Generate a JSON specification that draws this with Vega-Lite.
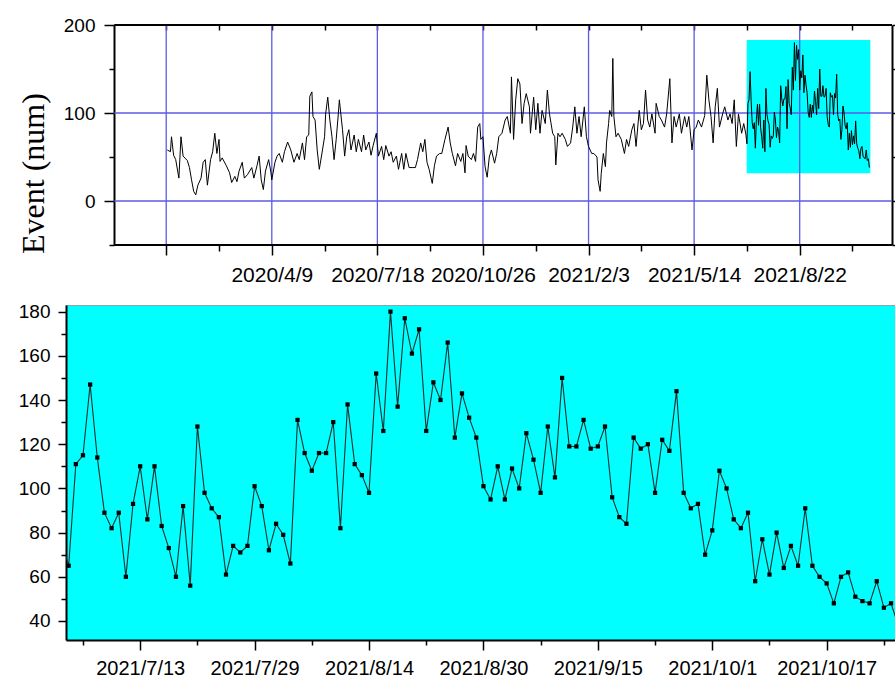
{
  "$schema": "https://vega.github.io/schema/vega-lite/v6.json",
  "padding": {"left": 16, "top": 16, "right": 0, "bottom": 0},
  "background": "white",
  "spacing": 17,
  "config": {
    "font": "Liberation Sans",
    "view": {"stroke": null},
    "axis": {"domainColor": "black", "tickColor": "black", "labelColor": "black", "labelFont": "Liberation Sans", "labelFlush": false, "labelOverlap": false, "grid": false, "domainWidth": 2, "tickWidth": 1.5}
  },
  "datasets": {
    "window": [{"start": "2021-07-02T19:00:00Z", "end": "2021-10-27T22:00:00Z", "low": 31.4, "high": 183}],
    "vgrid": [{"d": "2019-12-31"}, {"d": "2020-04-09"}, {"d": "2020-07-18"}, {"d": "2020-10-26"}, {"d": "2021-02-03"}, {"d": "2021-05-14"}, {"d": "2021-08-22"}],
    "hgrid": [{"v": 0, "a": "2019-11-11T19:00:00Z", "b": "2021-11-17T10:00:00Z"}, {"v": 100, "a": "2019-11-11T19:00:00Z", "b": "2021-11-17T10:00:00Z"}],
    "frame": [{"v": -50, "a": "2019-11-11T19:00:00Z", "b": "2021-11-17T10:00:00Z"}, {"v": 200, "a": "2019-11-11T19:00:00Z", "b": "2021-11-17T10:00:00Z"}],
    "series": [
      {"date":"2020-01-01","value":58},{"date":"2020-01-04","value":56},{"date":"2020-01-05","value":73},{"date":"2020-01-07","value":52},{"date":"2020-01-09","value":47},{"date":"2020-01-12","value":26},{"date":"2020-01-14","value":73},{"date":"2020-01-16","value":51},{"date":"2020-01-20","value":46},{"date":"2020-01-22","value":38},{"date":"2020-01-24","value":24},{"date":"2020-01-26","value":11},{"date":"2020-01-28","value":7},{"date":"2020-01-30","value":18},{"date":"2020-02-02","value":26},{"date":"2020-02-04","value":44},{"date":"2020-02-06","value":47},{"date":"2020-02-08","value":18},{"date":"2020-02-11","value":47},{"date":"2020-02-13","value":56},{"date":"2020-02-15","value":77},{"date":"2020-02-17","value":54},{"date":"2020-02-19","value":70},{"date":"2020-02-20","value":45},{"date":"2020-02-22","value":49},{"date":"2020-02-26","value":40},{"date":"2020-02-29","value":32},{"date":"2020-03-02","value":21},{"date":"2020-03-05","value":28},{"date":"2020-03-07","value":22},{"date":"2020-03-09","value":34},{"date":"2020-03-12","value":44},{"date":"2020-03-14","value":26},{"date":"2020-03-17","value":30},{"date":"2020-03-21","value":38},{"date":"2020-03-23","value":26},{"date":"2020-03-26","value":40},{"date":"2020-03-28","value":51},{"date":"2020-03-30","value":24},{"date":"2020-04-01","value":13},{"date":"2020-04-03","value":34},{"date":"2020-04-06","value":47},{"date":"2020-04-08","value":34},{"date":"2020-04-09","value":24},{"date":"2020-04-12","value":44},{"date":"2020-04-14","value":51},{"date":"2020-04-16","value":54},{"date":"2020-04-19","value":44},{"date":"2020-04-21","value":56},{"date":"2020-04-24","value":67},{"date":"2020-04-27","value":58},{"date":"2020-04-30","value":44},{"date":"2020-05-03","value":54},{"date":"2020-05-05","value":47},{"date":"2020-05-08","value":66},{"date":"2020-05-10","value":47},{"date":"2020-05-12","value":73},{"date":"2020-05-14","value":75},{"date":"2020-05-15","value":119},{"date":"2020-05-17","value":124},{"date":"2020-05-18","value":96},{"date":"2020-05-20","value":92},{"date":"2020-05-22","value":58},{"date":"2020-05-24","value":36},{"date":"2020-05-27","value":58},{"date":"2020-05-29","value":73},{"date":"2020-05-30","value":99},{"date":"2020-06-01","value":118},{"date":"2020-06-03","value":92},{"date":"2020-06-05","value":73},{"date":"2020-06-07","value":47},{"date":"2020-06-09","value":70},{"date":"2020-06-11","value":99},{"date":"2020-06-12","value":115},{"date":"2020-06-14","value":92},{"date":"2020-06-15","value":81},{"date":"2020-06-17","value":51},{"date":"2020-06-19","value":73},{"date":"2020-06-21","value":81},{"date":"2020-06-23","value":58},{"date":"2020-06-26","value":75},{"date":"2020-06-28","value":56},{"date":"2020-06-30","value":70},{"date":"2020-07-03","value":56},{"date":"2020-07-05","value":75},{"date":"2020-07-07","value":58},{"date":"2020-07-10","value":67},{"date":"2020-07-12","value":52},{"date":"2020-07-14","value":63},{"date":"2020-07-17","value":77},{"date":"2020-07-19","value":51},{"date":"2020-07-22","value":62},{"date":"2020-07-24","value":47},{"date":"2020-07-26","value":63},{"date":"2020-07-29","value":51},{"date":"2020-07-31","value":56},{"date":"2020-08-02","value":44},{"date":"2020-08-05","value":51},{"date":"2020-08-07","value":36},{"date":"2020-08-10","value":54},{"date":"2020-08-12","value":36},{"date":"2020-08-14","value":54},{"date":"2020-08-17","value":38},{"date":"2020-08-20","value":38},{"date":"2020-08-23","value":38},{"date":"2020-08-25","value":47},{"date":"2020-08-28","value":66},{"date":"2020-08-30","value":56},{"date":"2020-09-01","value":70},{"date":"2020-09-03","value":44},{"date":"2020-09-05","value":36},{"date":"2020-09-08","value":20},{"date":"2020-09-10","value":40},{"date":"2020-09-12","value":51},{"date":"2020-09-15","value":54},{"date":"2020-09-17","value":54},{"date":"2020-09-20","value":70},{"date":"2020-09-23","value":84},{"date":"2020-09-25","value":66},{"date":"2020-09-27","value":54},{"date":"2020-09-30","value":40},{"date":"2020-10-02","value":54},{"date":"2020-10-05","value":45},{"date":"2020-10-07","value":54},{"date":"2020-10-09","value":32},{"date":"2020-10-10","value":63},{"date":"2020-10-12","value":51},{"date":"2020-10-15","value":47},{"date":"2020-10-17","value":54},{"date":"2020-10-19","value":45},{"date":"2020-10-21","value":84},{"date":"2020-10-23","value":88},{"date":"2020-10-24","value":70},{"date":"2020-10-26","value":73},{"date":"2020-10-28","value":39},{"date":"2020-10-30","value":27},{"date":"2020-11-01","value":50},{"date":"2020-11-03","value":58},{"date":"2020-11-06","value":43},{"date":"2020-11-08","value":54},{"date":"2020-11-10","value":73},{"date":"2020-11-13","value":77},{"date":"2020-11-16","value":92},{"date":"2020-11-18","value":96},{"date":"2020-11-21","value":77},{"date":"2020-11-22","value":141},{"date":"2020-11-24","value":70},{"date":"2020-11-26","value":115},{"date":"2020-11-28","value":139},{"date":"2020-11-30","value":133},{"date":"2020-12-02","value":88},{"date":"2020-12-04","value":111},{"date":"2020-12-06","value":122},{"date":"2020-12-09","value":107},{"date":"2020-12-10","value":77},{"date":"2020-12-13","value":118},{"date":"2020-12-15","value":81},{"date":"2020-12-17","value":111},{"date":"2020-12-19","value":77},{"date":"2020-12-21","value":103},{"date":"2020-12-24","value":88},{"date":"2020-12-26","value":126},{"date":"2020-12-28","value":99},{"date":"2020-12-31","value":77},{"date":"2021-01-02","value":73},{"date":"2021-01-03","value":41},{"date":"2021-01-05","value":77},{"date":"2021-01-07","value":73},{"date":"2021-01-09","value":77},{"date":"2021-01-12","value":70},{"date":"2021-01-14","value":62},{"date":"2021-01-17","value":66},{"date":"2021-01-19","value":84},{"date":"2021-01-21","value":107},{"date":"2021-01-23","value":77},{"date":"2021-01-25","value":96},{"date":"2021-01-27","value":73},{"date":"2021-01-30","value":107},{"date":"2021-02-01","value":73},{"date":"2021-02-03","value":62},{"date":"2021-02-06","value":54},{"date":"2021-02-08","value":54},{"date":"2021-02-11","value":50},{"date":"2021-02-12","value":24},{"date":"2021-02-14","value":11},{"date":"2021-02-15","value":31},{"date":"2021-02-17","value":54},{"date":"2021-02-19","value":39},{"date":"2021-02-20","value":66},{"date":"2021-02-22","value":88},{"date":"2021-02-23","value":103},{"date":"2021-02-25","value":96},{"date":"2021-02-26","value":162},{"date":"2021-02-27","value":96},{"date":"2021-03-01","value":73},{"date":"2021-03-03","value":77},{"date":"2021-03-06","value":70},{"date":"2021-03-09","value":54},{"date":"2021-03-11","value":70},{"date":"2021-03-13","value":62},{"date":"2021-03-16","value":81},{"date":"2021-03-18","value":88},{"date":"2021-03-20","value":62},{"date":"2021-03-23","value":103},{"date":"2021-03-25","value":81},{"date":"2021-03-27","value":88},{"date":"2021-03-29","value":126},{"date":"2021-03-31","value":92},{"date":"2021-04-02","value":84},{"date":"2021-04-04","value":99},{"date":"2021-04-07","value":77},{"date":"2021-04-08","value":111},{"date":"2021-04-11","value":96},{"date":"2021-04-13","value":92},{"date":"2021-04-16","value":84},{"date":"2021-04-18","value":99},{"date":"2021-04-21","value":139},{"date":"2021-04-23","value":66},{"date":"2021-04-25","value":96},{"date":"2021-04-27","value":84},{"date":"2021-04-30","value":99},{"date":"2021-05-02","value":77},{"date":"2021-05-05","value":96},{"date":"2021-05-07","value":84},{"date":"2021-05-09","value":96},{"date":"2021-05-12","value":58},{"date":"2021-05-14","value":81},{"date":"2021-05-16","value":84},{"date":"2021-05-18","value":92},{"date":"2021-05-21","value":84},{"date":"2021-05-24","value":97},{"date":"2021-05-26","value":143},{"date":"2021-05-28","value":115},{"date":"2021-05-30","value":96},{"date":"2021-06-01","value":66},{"date":"2021-06-03","value":107},{"date":"2021-06-05","value":128},{"date":"2021-06-07","value":84},{"date":"2021-06-10","value":99},{"date":"2021-06-12","value":107},{"date":"2021-06-15","value":92},{"date":"2021-06-17","value":99},{"date":"2021-06-19","value":88},{"date":"2021-06-21","value":115},{"date":"2021-06-23","value":62},{"date":"2021-06-25","value":99},{"date":"2021-06-28","value":77},{"date":"2021-06-30","value":88},
      {"date":"2021-07-02","value":76},{"date":"2021-07-03","value":65},{"date":"2021-07-04","value":111},{"date":"2021-07-05","value":115},{"date":"2021-07-06","value":147},{"date":"2021-07-07","value":114},{"date":"2021-07-08","value":89},{"date":"2021-07-09","value":82},{"date":"2021-07-10","value":89},{"date":"2021-07-11","value":60},{"date":"2021-07-12","value":93},{"date":"2021-07-13","value":110},{"date":"2021-07-14","value":86},{"date":"2021-07-15","value":110},{"date":"2021-07-16","value":83},{"date":"2021-07-17","value":73},{"date":"2021-07-18","value":60},{"date":"2021-07-19","value":92},{"date":"2021-07-20","value":56},{"date":"2021-07-21","value":128},{"date":"2021-07-22","value":98},{"date":"2021-07-23","value":91},{"date":"2021-07-24","value":87},{"date":"2021-07-25","value":61},{"date":"2021-07-26","value":74},{"date":"2021-07-27","value":71},{"date":"2021-07-28","value":74},{"date":"2021-07-29","value":101},{"date":"2021-07-30","value":92},{"date":"2021-07-31","value":72},
      {"date":"2021-08-01","value":84},{"date":"2021-08-02","value":79},{"date":"2021-08-03","value":66},{"date":"2021-08-04","value":131},{"date":"2021-08-05","value":116},{"date":"2021-08-06","value":108},{"date":"2021-08-07","value":116},{"date":"2021-08-08","value":116},{"date":"2021-08-09","value":130},{"date":"2021-08-10","value":82},{"date":"2021-08-11","value":138},{"date":"2021-08-12","value":111},{"date":"2021-08-13","value":106},{"date":"2021-08-14","value":98},{"date":"2021-08-15","value":152},{"date":"2021-08-16","value":126},{"date":"2021-08-17","value":180},{"date":"2021-08-18","value":137},{"date":"2021-08-19","value":177},{"date":"2021-08-20","value":161},{"date":"2021-08-21","value":172},{"date":"2021-08-22","value":126},{"date":"2021-08-23","value":148},{"date":"2021-08-24","value":140},{"date":"2021-08-25","value":166},{"date":"2021-08-26","value":123},{"date":"2021-08-27","value":143},{"date":"2021-08-28","value":132},{"date":"2021-08-29","value":123},{"date":"2021-08-30","value":101},{"date":"2021-08-31","value":95},
      {"date":"2021-09-01","value":110},{"date":"2021-09-02","value":95},{"date":"2021-09-03","value":109},{"date":"2021-09-04","value":100},{"date":"2021-09-05","value":125},{"date":"2021-09-06","value":113},{"date":"2021-09-07","value":98},{"date":"2021-09-08","value":128},{"date":"2021-09-09","value":105},{"date":"2021-09-10","value":150},{"date":"2021-09-11","value":119},{"date":"2021-09-12","value":119},{"date":"2021-09-13","value":131},{"date":"2021-09-14","value":118},{"date":"2021-09-15","value":119},{"date":"2021-09-16","value":128},{"date":"2021-09-17","value":96},{"date":"2021-09-18","value":87},{"date":"2021-09-19","value":84},{"date":"2021-09-20","value":123},{"date":"2021-09-21","value":118},{"date":"2021-09-22","value":120},{"date":"2021-09-23","value":98},{"date":"2021-09-24","value":122},{"date":"2021-09-25","value":117},{"date":"2021-09-26","value":144},{"date":"2021-09-27","value":98},{"date":"2021-09-28","value":91},{"date":"2021-09-29","value":93},{"date":"2021-09-30","value":70},
      {"date":"2021-10-01","value":81},{"date":"2021-10-02","value":108},{"date":"2021-10-03","value":100},{"date":"2021-10-04","value":86},{"date":"2021-10-05","value":82},{"date":"2021-10-06","value":89},{"date":"2021-10-07","value":58},{"date":"2021-10-08","value":77},{"date":"2021-10-09","value":61},{"date":"2021-10-10","value":80},{"date":"2021-10-11","value":64},{"date":"2021-10-12","value":74},{"date":"2021-10-13","value":65},{"date":"2021-10-14","value":91},{"date":"2021-10-15","value":65},{"date":"2021-10-16","value":60},{"date":"2021-10-17","value":57},{"date":"2021-10-18","value":48},{"date":"2021-10-19","value":60},{"date":"2021-10-20","value":62},{"date":"2021-10-21","value":51},{"date":"2021-10-22","value":49},{"date":"2021-10-23","value":48},{"date":"2021-10-24","value":58},{"date":"2021-10-25","value":46},{"date":"2021-10-26","value":48},{"date":"2021-10-27","value":38}
    ]
  },
  "vconcat": [
    {
      "width": 826,
      "height": 220,
      "resolve": {"axis": {"x": "independent", "y": "independent"}},
      "layer": [
        {
          "data": {"name": "window"},
          "mark": {"type": "rect", "color": "#00ffff", "opacity": 1},
          "encoding": {
            "x": {"field": "start", "type": "temporal", "scale": {"type": "utc", "domain": [{"year": 2019, "month": 9, "date": 27, "hours": 2, "utc": true}, {"year": 2021, "month": 11, "date": 17, "hours": 10, "utc": true}]}, "axis": null},
            "x2": {"field": "end"},
            "y": {"field": "low", "type": "quantitative", "scale": {"domain": [-50, 200], "nice": false, "zero": false}, "axis": null},
            "y2": {"field": "high"}
          }
        },
        {
          "data": {"name": "vgrid"},
          "mark": {"type": "rule", "color": "#5b5be6", "strokeWidth": 1.3},
          "encoding": {
            "x": {"field": "d", "type": "temporal", "axis": null}
          }
        },
        {
          "data": {"name": "hgrid"},
          "mark": {"type": "rule", "color": "#5b5be6", "strokeWidth": 1.3},
          "encoding": {
            "x": {"field": "a", "type": "temporal", "axis": null},
            "x2": {"field": "b"},
            "y": {"field": "v", "type": "quantitative", "axis": null}
          }
        },
        {
          "data": {"name": "series"},
          "mark": {"type": "line", "color": "black", "strokeWidth": 1, "clip": true},
          "encoding": {
            "x": {
              "field": "date", "type": "temporal",
              "scale": {"type": "utc", "domain": [{"year": 2019, "month": 9, "date": 27, "hours": 2, "utc": true}, {"year": 2021, "month": 11, "date": 17, "hours": 10, "utc": true}]},
              "axis": {
                "orient": "bottom", "title": null, "domain": false,
                "values": [
                  {"year": 2019, "month": 12, "date": 31, "utc": true}, {"year": 2020, "month": 2, "date": 19, "utc": true}, {"year": 2020, "month": 4, "date": 9, "utc": true}, {"year": 2020, "month": 5, "date": 29, "utc": true}, {"year": 2020, "month": 7, "date": 18, "utc": true}, {"year": 2020, "month": 9, "date": 6, "utc": true}, {"year": 2020, "month": 10, "date": 26, "utc": true}, {"year": 2020, "month": 12, "date": 15, "utc": true}, {"year": 2021, "month": 2, "date": 3, "utc": true}, {"year": 2021, "month": 3, "date": 25, "utc": true}, {"year": 2021, "month": 5, "date": 14, "utc": true}, {"year": 2021, "month": 7, "date": 3, "utc": true}, {"year": 2021, "month": 8, "date": 22, "utc": true}, {"year": 2021, "month": 10, "date": 11, "utc": true}
                ],
                "format": "%Y/%-m/%-d",
                "labelExpr": "(round((datum.value - utc(2019,11,31)) / 864e5) % 100 == 0 && datum.value > utc(2020,0,2)) ? datum.label : ''",
                "tickSize": {"condition": {"test": "round((datum.value - utc(2019,11,31)) / 864e5) % 100 == 0", "value": 10}, "value": 6},
                "labelFontSize": 21, "labelPadding": 9
              }
            },
            "y": {
              "field": "value", "type": "quantitative",
              "scale": {"domain": [-50, 200], "nice": false, "zero": false},
              "axis": {
                "orient": "left", "offset": -48,
                "values": [-50, 0, 50, 100, 150, 200],
                "labelExpr": "datum.value % 100 == 0 ? datum.label : ''",
                "tickSize": {"condition": {"test": "datum.value % 100 == 0", "value": 10}, "value": 5},
                "labelFontSize": 19, "labelPadding": 9,
                "title": "Event  (num)", "titleFont": "Liberation Serif", "titleFontSize": 32, "titleFontWeight": "normal", "titleColor": "black",
                "titleAngle": -90, "titleX": -71, "titleY": 148, "titleAlign": "center", "titleBaseline": "alphabetic"
              }
            }
          }
        },
        {
          "data": {"name": "frame"},
          "mark": {"type": "rule", "color": "black", "strokeWidth": 2},
          "encoding": {
            "x": {"field": "a", "type": "temporal", "axis": null},
            "x2": {"field": "b"},
            "y": {"field": "v", "type": "quantitative", "axis": null}
          }
        },
        {
          "data": {"name": "series"},
          "mark": {"type": "line", "opacity": 0},
          "encoding": {
            "x": {
              "field": "date", "type": "temporal",
              "axis": {
                "orient": "top", "title": null, "labels": false, "domain": false, "tickSize": -5, "grid": false,
                "values": [
                  {"year": 2019, "month": 12, "date": 31, "utc": true}, {"year": 2020, "month": 2, "date": 19, "utc": true}, {"year": 2020, "month": 4, "date": 9, "utc": true}, {"year": 2020, "month": 5, "date": 29, "utc": true}, {"year": 2020, "month": 7, "date": 18, "utc": true}, {"year": 2020, "month": 9, "date": 6, "utc": true}, {"year": 2020, "month": 10, "date": 26, "utc": true}, {"year": 2020, "month": 12, "date": 15, "utc": true}, {"year": 2021, "month": 2, "date": 3, "utc": true}, {"year": 2021, "month": 3, "date": 25, "utc": true}, {"year": 2021, "month": 5, "date": 14, "utc": true}, {"year": 2021, "month": 7, "date": 3, "utc": true}, {"year": 2021, "month": 8, "date": 22, "utc": true}, {"year": 2021, "month": 10, "date": 11, "utc": true}
                ]
              }
            },
            "y": {
              "field": "value", "type": "quantitative",
              "axis": {"orient": "right", "title": null, "labels": false, "tickSize": 3, "grid": false, "values": [-50, 0, 50, 100, 150, 200]}
            }
          }
        }
      ]
    },
    {
      "width": 831,
      "height": 335,
      "view": {"fill": "#00ffff", "stroke": null},
      "data": {"name": "series"},
      "transform": [{"filter": {"field": "date", "range": [{"year": 2021, "month": 7, "date": 1, "utc": true}, {"year": 2021, "month": 11, "date": 1, "utc": true}]}}],
      "resolve": {"axis": {"x": "independent", "y": "independent"}},
      "layer": [
        {
          "mark": {"type": "line", "color": "#1e2e2e", "strokeWidth": 1.1, "clip": true},
          "encoding": {
            "x": {
              "field": "date", "type": "temporal",
              "scale": {"type": "utc", "domain": [{"year": 2021, "month": 7, "date": 2, "hours": 15, "utc": true}, {"year": 2021, "month": 10, "date": 26, "hours": 20, "utc": true}]},
              "axis": {
                "orient": "bottom", "title": null,
                "values": [
                  {"year": 2021, "month": 7, "date": 5, "utc": true}, {"year": 2021, "month": 7, "date": 13, "utc": true}, {"year": 2021, "month": 7, "date": 21, "utc": true}, {"year": 2021, "month": 7, "date": 29, "utc": true}, {"year": 2021, "month": 8, "date": 6, "utc": true}, {"year": 2021, "month": 8, "date": 14, "utc": true}, {"year": 2021, "month": 8, "date": 22, "utc": true}, {"year": 2021, "month": 8, "date": 30, "utc": true}, {"year": 2021, "month": 9, "date": 7, "utc": true}, {"year": 2021, "month": 9, "date": 15, "utc": true}, {"year": 2021, "month": 9, "date": 23, "utc": true}, {"year": 2021, "month": 10, "date": 1, "utc": true}, {"year": 2021, "month": 10, "date": 9, "utc": true}, {"year": 2021, "month": 10, "date": 17, "utc": true}, {"year": 2021, "month": 10, "date": 25, "utc": true}
                ],
                "format": "%Y/%-m/%-d",
                "labelExpr": "round((datum.value - utc(2021,6,13)) / 864e5) % 16 == 0 ? datum.label : ''",
                "tickSize": {"condition": {"test": "round((datum.value - utc(2021,6,13)) / 864e5) % 16 == 0", "value": 10}, "value": 5},
                "labelFontSize": 20, "labelPadding": 8
              }
            },
            "y": {
              "field": "value", "type": "quantitative",
              "scale": {"domain": [31.4, 183], "nice": false, "zero": false},
              "axis": {
                "orient": "left", "title": null,
                "values": [40, 50, 60, 70, 80, 90, 100, 110, 120, 130, 140, 150, 160, 170, 180],
                "labelExpr": "datum.value % 20 == 0 ? datum.label : ''",
                "tickSize": {"condition": {"test": "datum.value % 20 == 0", "value": 8}, "value": 5},
                "labelFontSize": 19, "labelPadding": 8
              }
            }
          }
        },
        {
          "mark": {"type": "point", "shape": "square", "filled": true, "color": "black", "opacity": 1, "size": 18, "clip": true},
          "encoding": {
            "x": {"field": "date", "type": "temporal", "scale": {"type": "utc", "domain": [{"year": 2021, "month": 7, "date": 2, "hours": 15, "utc": true}, {"year": 2021, "month": 10, "date": 26, "hours": 20, "utc": true}]}, "axis": null},
            "y": {"field": "value", "type": "quantitative", "scale": {"domain": [31.4, 183], "nice": false, "zero": false}, "axis": null}
          }
        },
        {
          "mark": {"type": "line", "opacity": 0},
          "encoding": {
            "x": {"field": "date", "type": "temporal", "scale": {"type": "utc", "domain": [{"year": 2021, "month": 7, "date": 2, "hours": 15, "utc": true}, {"year": 2021, "month": 10, "date": 26, "hours": 20, "utc": true}]}, "axis": {"orient": "top", "title": null, "labels": false, "ticks": false, "grid": false, "domainColor": "#8aa6a6", "domainWidth": 1.2}},
            "y": {"field": "value", "type": "quantitative", "scale": {"domain": [31.4, 183], "nice": false, "zero": false}, "axis": null}
          }
        }
      ]
    }
  ]
}
